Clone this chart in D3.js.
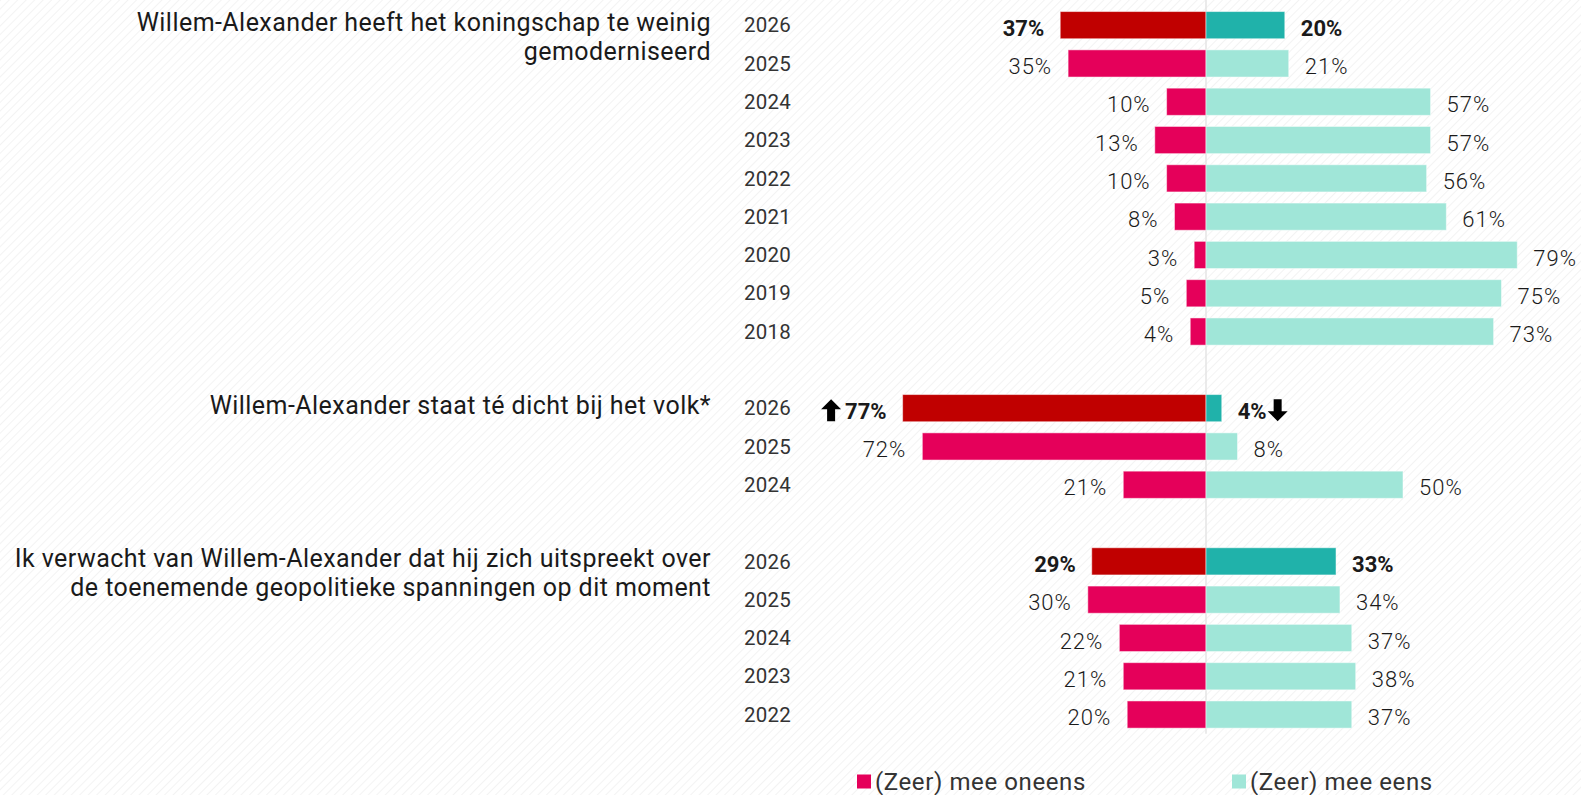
<!DOCTYPE html>
<html>
<head>
<meta charset="utf-8">
<script src="https://cdn.jsdelivr.net/npm/d3@7"></script>
<style>
  html, body { margin: 0; padding: 0; background: #fff; }
  svg { display: block; }
  text { font-family: Roboto, "Noto Sans", sans-serif; }
</style>
</head>
<body>
<div id="chart"></div>
<script>
// questions (one per group), split in lines like the original
var questions = [
  ["Willem-Alexander heeft het koningschap te weinig", "gemoderniseerd"],
  ["Willem-Alexander staat té dicht bij het volk*"],
  ["Ik verwacht van Willem-Alexander dat hij zich uitspreekt over", "de toenemende geopolitieke spanningen op dit moment"]
];

// years per group
var years1 = [2026, 2025, 2024, 2023, 2022, 2021, 2020, 2019, 2018];
var years2 = [2026, 2025, 2024];
var years3 = [2026, 2025, 2024, 2023, 2022];

// (zeer) mee oneens
var oneens1 = [37, 35, 10, 13, 10, 8, 3, 5, 4];
var oneens2 = [77, 72, 21];
var oneens3 = [29, 30, 22, 21, 20];

// (zeer) mee eens
var eens1 = [20, 21, 57, 57, 56, 61, 79, 75, 73];
var eens2 = [4, 8, 50];
var eens3 = [33, 34, 37, 38, 37];

// significant change markers for 2026 (up / down)
var change2 = { oneens: "up", eens: "down" };

var legendLabels = ["(Zeer) mee oneens", "(Zeer) mee eens"];

var width = 1581, height = 795;

var groups = [
  { q: questions[0], years: years1, neg: oneens1, pos: eens1 },
  { q: questions[1], years: years2, neg: oneens2, pos: eens2, change: change2 },
  { q: questions[2], years: years3, neg: oneens3, pos: eens3 }
];

// flatten into rows, with an empty row between groups
var rows = [];
var idx = 0;
groups.forEach(function (g, gi) {
  g.startIdx = idx;
  g.years.forEach(function (y, i) {
    rows.push({ group: gi, year: y, neg: g.neg[i], pos: g.pos[i], idx: idx, latest: i === 0, change: i === 0 ? g.change : null });
    idx++;
  });
  idx++; // gap
});
var nRows = idx - 1;

var colors = {
  negLatest: "#c00000", neg: "#e5005a",
  posLatest: "#20b2aa", pos: "#a0e6d8"
};

var x = d3.scaleLinear().domain([-100, 100]).range([1206 - 394, 1206 + 394]);

var y = d3.scaleBand()
  .domain(d3.range(nRows))
  .range([6, 6 + nRows * 38.3])
  .paddingInner(0.29)
  .paddingOuter(0.145);

var svg = d3.select("#chart").append("svg")
  .attr("width", width)
  .attr("height", height);

// hatched background
var defs = svg.append("defs");
var pat = defs.append("pattern")
  .attr("id", "hatch")
  .attr("patternUnits", "userSpaceOnUse")
  .attr("width", 6).attr("height", 6)
  .attr("patternTransform", "rotate(45)");
pat.append("rect").attr("width", 6).attr("height", 6).attr("fill", "#fff");
pat.append("line").attr("x1", 0).attr("y1", 0).attr("x2", 0).attr("y2", 6)
  .attr("stroke", "#f1f1f1").attr("stroke-width", 1.6);

svg.append("rect").attr("width", width).attr("height", height).attr("fill", "url(#hatch)");

// zero line
svg.append("line")
  .attr("x1", x(0)).attr("x2", x(0))
  .attr("y1", 0).attr("y2", y.range()[1])
  .attr("stroke", "#e4e4e4").attr("stroke-width", 1.5);

var bh = y.bandwidth();

// bars
svg.selectAll("rect.neg").data(rows).enter().append("rect")
  .attr("class", "neg")
  .attr("x", function (d) { return x(-d.neg); })
  .attr("y", function (d) { return y(d.idx); })
  .attr("width", function (d) { return x(0) - x(-d.neg); })
  .attr("height", bh)
  .attr("fill", function (d) { return d.latest ? colors.negLatest : colors.neg; })
  .attr("stroke", "#fff").attr("stroke-opacity", 0.5).attr("stroke-width", 1);

svg.selectAll("rect.pos").data(rows).enter().append("rect")
  .attr("class", "pos")
  .attr("x", x(0))
  .attr("y", function (d) { return y(d.idx); })
  .attr("width", function (d) { return x(d.pos) - x(0); })
  .attr("height", bh)
  .attr("fill", function (d) { return d.latest ? colors.posLatest : colors.pos; })
  .attr("stroke", "#fff").attr("stroke-opacity", 0.5).attr("stroke-width", 1);

// year labels
svg.selectAll("text.year").data(rows).enter().append("text")
  .attr("class", "year")
  .attr("x", 744)
  .attr("y", function (d) { return y(d.idx) + bh / 2; })
  .attr("dy", "0.35em")
  .attr("font-size", 20.5)
  .attr("letter-spacing", 0.2)
  .attr("fill", "#333")
  .text(function (d) { return d.year; });

// value labels
var gap = 16;
svg.selectAll("text.negv").data(rows).enter().append("text")
  .attr("class", "negv")
  .attr("x", function (d) { return x(-d.neg) - gap; })
  .attr("y", function (d) { return y(d.idx) + bh / 2 + 3; })
  .attr("dy", "0.35em")
  .attr("text-anchor", "end")
  .attr("font-size", 22)
  .attr("letter-spacing", function (d) { return d.latest ? 0 : 1; })
  .attr("font-weight", function (d) { return d.latest ? 700 : 300; })
  .attr("fill", "#1a1a1a")
  .text(function (d) { return d.neg + "%"; });

svg.selectAll("text.posv").data(rows).enter().append("text")
  .attr("class", "posv")
  .attr("x", function (d) { return x(d.pos) + gap; })
  .attr("y", function (d) { return y(d.idx) + bh / 2 + 3; })
  .attr("dy", "0.35em")
  .attr("font-size", 22)
  .attr("letter-spacing", function (d) { return d.latest ? 0 : 1; })
  .attr("font-weight", function (d) { return d.latest ? 700 : 300; })
  .attr("fill", "#1a1a1a")
  .text(function (d) { return d.pos + "%"; });

// arrows for significant changes
function arrow(cx, cy, dir) {
  var s = dir === "up" ? -1 : 1;
  // head 20 wide, shaft 8 wide, total 22 tall
  var pts = [
    [cx, cy + s * 11],
    [cx + 10, cy + s * 1],
    [cx + 4, cy + s * 1],
    [cx + 4, cy - s * 11],
    [cx - 4, cy - s * 11],
    [cx - 4, cy + s * 1],
    [cx - 10, cy + s * 1]
  ];
  return "M" + pts.map(function (p) { return p.join(","); }).join("L") + "Z";
}

rows.filter(function (d) { return d.change; }).forEach(function (d) {
  var cy = y(d.idx) + bh / 2 + 2;
  var negLabel = svg.selectAll("text.negv").filter(function (e) { return e === d; }).node();
  var posLabel = svg.selectAll("text.posv").filter(function (e) { return e === d; }).node();
  var nb = negLabel.getBBox(), pb = posLabel.getBBox();
  svg.append("path")
    .attr("d", arrow(nb.x - 14, cy, d.change.oneens))
    .attr("fill", "#000");
  svg.append("path")
    .attr("d", arrow(pb.x + pb.width + 11, cy, d.change.eens))
    .attr("fill", "#000");
});

// question labels
groups.forEach(function (g) {
  var t = svg.append("text")
    .attr("x", 711)
    .attr("y", y(g.startIdx) + bh / 2 - 3)
    .attr("text-anchor", "end")
    .attr("font-size", 25)
    .attr("letter-spacing", 0.45)
    .attr("fill", "#1a1a1a");
  g.q.forEach(function (line, i) {
    t.append("tspan")
      .attr("x", 711)
      .attr("dy", i === 0 ? "0.35em" : 29)
      .text(line);
  });
});

// legend
var legend = svg.append("g");
var legendX = [857, 1232];
var legendColors = [colors.neg, colors.pos];
legendLabels.forEach(function (l, i) {
  legend.append("rect")
    .attr("x", legendX[i]).attr("y", 774.5)
    .attr("width", 14).attr("height", 14)
    .attr("fill", legendColors[i]);
  legend.append("text")
    .attr("x", legendX[i] + 18).attr("y", 782)
    .attr("dy", "0.35em")
    .attr("font-size", 24)
    .attr("letter-spacing", 0.6)
    .attr("fill", "#333")
    .text(l);
});
</script>
</body>
</html>
